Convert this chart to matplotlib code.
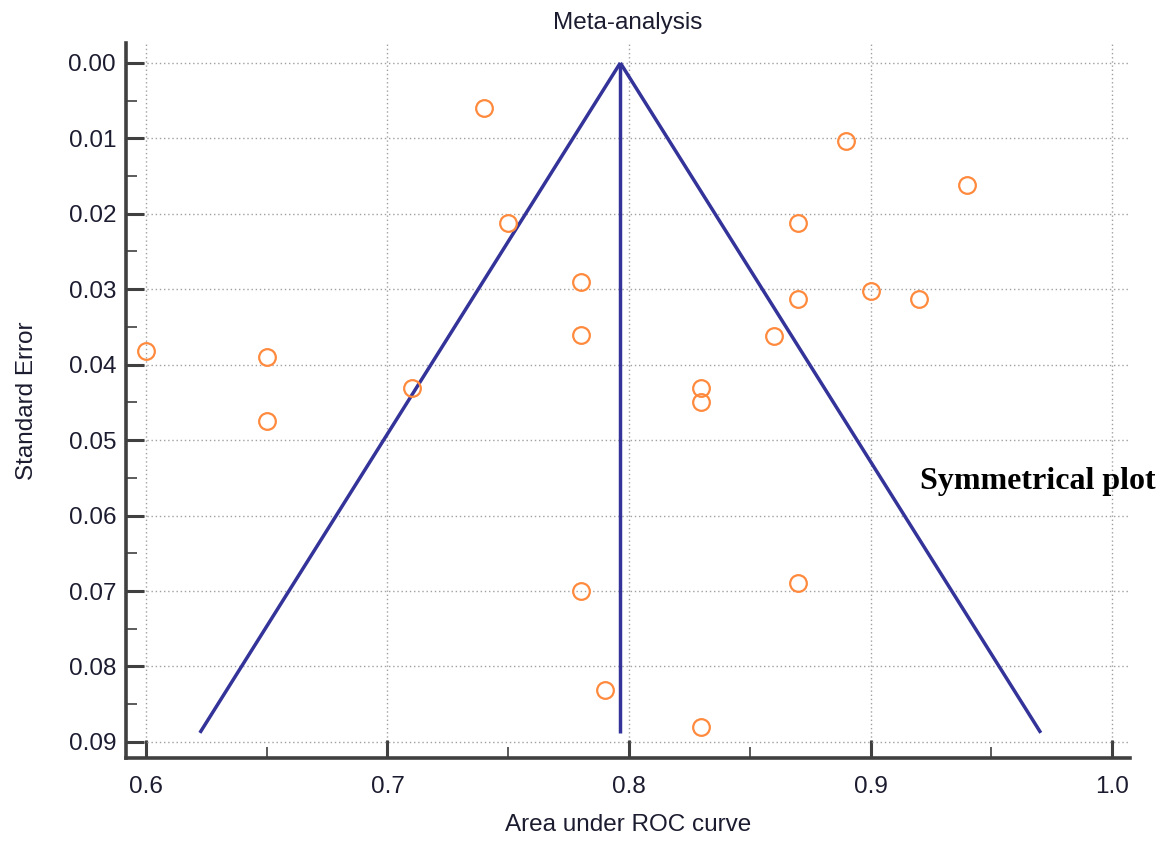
import numpy as np
import matplotlib
matplotlib.use("Agg")
import matplotlib.pyplot as plt
from matplotlib.ticker import MultipleLocator, FormatStrFormatter

# study data
auc = [0.74, 0.89, 0.94, 0.75, 0.87, 0.78, 0.87, 0.90, 0.92, 0.78, 0.86,
       0.60, 0.65, 0.71, 0.83, 0.83, 0.65, 0.78, 0.87, 0.79, 0.83]
se = [0.0060, 0.0103, 0.0162, 0.0212, 0.0212, 0.0290, 0.0313, 0.0302, 0.0313, 0.0361, 0.0362,
      0.0382, 0.0390, 0.0431, 0.0431, 0.0450, 0.0475, 0.0700, 0.0690, 0.0831, 0.0880]

pooled = 0.7964
se_max = 0.0888

plt.rcParams['font.family'] = ['Liberation Sans', 'DejaVu Sans']

fig = plt.figure(figsize=(11.65, 8.41), dpi=100)
ax = fig.add_axes([0.108, 0.099, 0.862, 0.850])

# funnel (pseudo 95% limits)
se_line = np.array([0.0, se_max])
ax.plot(pooled - 1.96 * se_line, se_line, color='#333399', lw=2.5, solid_capstyle='butt', zorder=3)
ax.plot(pooled + 1.96 * se_line, se_line, color='#333399', lw=2.5, solid_capstyle='butt', zorder=3)
ax.plot([pooled, pooled], [0, se_max], color='#333399', lw=2.5, solid_capstyle='butt', zorder=3)

ax.plot(auc, se, 'o', ms=12, mfc='none', mec='#ff8a3d', mew=1.6, zorder=4)

ax.set_xlim(0.5917, 1.0074)
ax.set_ylim(0.0921, -0.00265)

ax.xaxis.set_major_locator(MultipleLocator(0.1))
ax.xaxis.set_minor_locator(MultipleLocator(0.05))
ax.yaxis.set_major_locator(MultipleLocator(0.01))
ax.yaxis.set_minor_locator(MultipleLocator(0.005))
ax.xaxis.set_major_formatter(FormatStrFormatter('%.1f'))
ax.yaxis.set_major_formatter(FormatStrFormatter('%.2f'))

ax.grid(True, which='major', linestyle=(0, (1, 2)), color='#a0a0a0', lw=1.0)
ax.set_axisbelow(True)

for s in ['top', 'right']:
    ax.spines[s].set_visible(False)
for s in ['left', 'bottom']:
    ax.spines[s].set_linewidth(2.6)
    ax.spines[s].set_color('#404040')

txt = '#1c1c30'
ax.tick_params(which='major', direction='in', length=13, width=2.2, color='#404040',
               labelsize=17.5, labelcolor=txt)
ax.tick_params(axis='y', which='major', pad=7)
ax.tick_params(axis='x', which='major', pad=13)
ax.tick_params(which='minor', direction='in', length=8, width=1.2, color='#404040')

ax.set_xlabel('Area under ROC curve', fontsize=17.5, color=txt, labelpad=12)
ax.set_ylabel('Standard Error', fontsize=17.5, color=txt, labelpad=22)
ax.set_title('Meta-analysis', fontsize=17.5, color=txt, pad=10)

fig.text(0.79, 0.427, 'Symmetrical plot', fontsize=23, fontweight='bold',
         family=['Liberation Serif', 'DejaVu Serif'], ha='left', va='center', color='black')

fig.savefig('out.png', dpi=100)
